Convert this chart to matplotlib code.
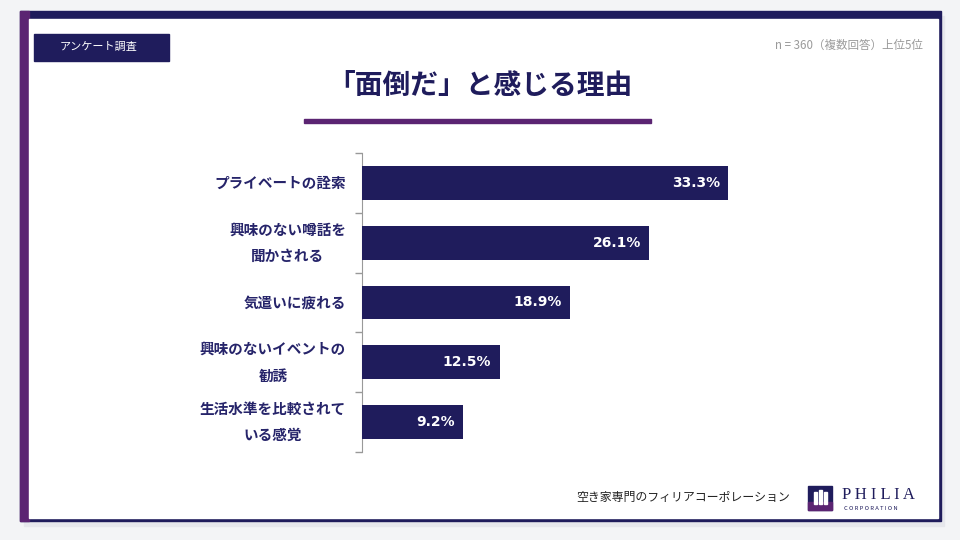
import matplotlib.pyplot as plt
from matplotlib.patches import Rectangle

plt.rcParams['font.family'] = ['Noto Sans CJK JP', 'DejaVu Sans']

categories = ['プライベートの詮索', '興味のない噂話を\n聞かされる', '気遣いに疲れる',
              '興味のないイベントの\n勧誘', '生活水準を比較されて\nいる感覚']
values = [33.3, 26.1, 18.9, 12.5, 9.2]
value_labels = ['33.3%', '26.1%', '18.9%', '12.5%', '9.2%']

navy = '#1f1c5c'
purple = '#5b2472'
W, H = 960, 540

fig = plt.figure(figsize=(9.6, 5.4), dpi=100)
fig.patch.set_facecolor('#f3f4f6')

# background layer in pixel coordinates
bg = fig.add_axes([0, 0, 1, 1])
bg.set_xlim(0, W)
bg.set_ylim(H, 0)
bg.axis('off')
bg.add_patch(Rectangle((24, 16), 920, 510, color='#e6e7ec', zorder=0))  # shadow
bg.add_patch(Rectangle((20, 11), 921, 510, color=navy, zorder=1))
bg.add_patch(Rectangle((20, 11), 9, 510, color=purple, zorder=2))
bg.add_patch(Rectangle((29, 19), 909, 499, color='white', zorder=2))

# badge
bg.add_patch(Rectangle((34, 34), 135, 27, color=navy, zorder=3))
bg.text(60, 47, 'アンケート調査', color='white', fontsize=8, va='center', ha='left', zorder=4)

# sample note
bg.text(923, 45, 'n = 360（複数回答）上位5位', color='#9a9a9a', fontsize=8.3, va='center', ha='right', zorder=4)

# title
bg.text(480, 86, '「面倒だ」と感じる理由', color=navy, fontsize=20, fontweight='bold',
        va='center', ha='center', zorder=4)
bg.add_patch(Rectangle((304, 119), 347, 4, color=purple, zorder=4))

# footer
bg.text(790, 497, '空き家専門のフィリアコーポレーション', color='#222222', fontsize=8.6,
        va='center', ha='right', zorder=4)
bg.add_patch(Rectangle((808, 486), 24, 24, color=navy, zorder=4))
bg.add_patch(Rectangle((808, 502), 24, 8, color=purple, zorder=5))
bg.add_patch(Rectangle((814, 492), 3, 12, color='white', zorder=6))
bg.add_patch(Rectangle((819, 490), 3, 14, color='white', zorder=6))
bg.add_patch(Rectangle((824, 492), 3, 12, color='white', zorder=6))
bg.text(842, 495, 'P H I L I A', color=navy, fontsize=12, family='Liberation Serif',
        va='center', ha='left', zorder=4)
bg.text(844, 508, 'C O R P O R A T I O N', color=navy, fontsize=4.2,
        va='center', ha='left', zorder=4)

# chart
ax = fig.add_axes([362 / W, (H - 452) / H, 440 / W, (452 - 153) / H])
ax.patch.set_alpha(0)
pos = list(range(len(categories)))
ax.barh(pos, values, height=0.567, color=navy, zorder=3)
ax.set_xlim(0, 40)
ax.set_ylim(len(categories) - 0.5, -0.5)
ax.set_xticks([])
ax.set_yticks([p - 0.5 for p in pos] + [len(categories) - 0.5])
ax.set_yticklabels([])
ax.tick_params(axis='y', length=5, color='#999999', width=1)
for s in ['top', 'right', 'bottom']:
    ax.spines[s].set_visible(False)
ax.spines['left'].set_color('#999999')

for p, cat, v, lab in zip(pos, categories, values, value_labels):
    ax.annotate(cat, xy=(0, p), xytext=(-11.5, 0), textcoords='offset points',
                ha='right', va='center', multialignment='center', linespacing=1.8,
                color='#26246a', fontsize=10.5, fontweight='bold')
    ax.annotate(lab, xy=(v, p), xytext=(-6, 0), textcoords='offset points',
                ha='right', va='center', color='white', fontsize=10,
                fontweight='bold', family='DejaVu Sans', zorder=4)

fig.savefig('out.png', dpi=100, facecolor=fig.get_facecolor())
